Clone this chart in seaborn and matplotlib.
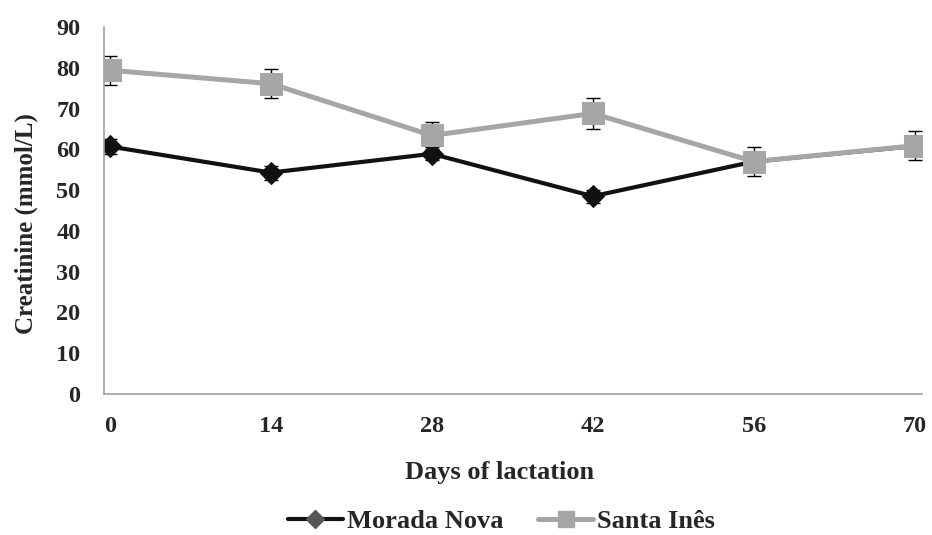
import matplotlib
matplotlib.use("Agg")
import matplotlib.pyplot as plt
from matplotlib.lines import Line2D
import seaborn as sns
import pandas as pd

days = [0, 14, 28, 42, 56, 70]
morada_nova = [60.7, 54.3, 58.9, 48.5, 57.0, 60.8]
morada_nova_err = [1.8, 1.7, 1.6, 1.6, 1.6, 1.6]
santa_ines = [79.4, 76.1, 63.4, 68.8, 57.0, 60.9]
santa_ines_err = [3.5, 3.6, 3.4, 3.7, 3.6, 3.5]
series_names = ["Morada Nova", "Santa Inês"]
x_ticks = [0, 14, 28, 42, 56, 70]
y_ticks = [0, 10, 20, 30, 40, 50, 60, 70, 80, 90]

sns.set_style("white")
plt.rcParams['font.family'] = ['Liberation Serif', 'DejaVu Serif']
plt.rcParams['font.weight'] = 'bold'

df = pd.DataFrame({
    "day": days * 2,
    "value": morada_nova + santa_ines,
    "breed": [series_names[0]] * len(days) + [series_names[1]] * len(days),
})

fig = plt.figure(figsize=(9.32, 5.35), dpi=100)
ax = fig.add_axes([0.1116, 0.2636, 0.8774, 0.6859])

black = "#111111"
gray = "#A6A6A6"

ax.errorbar(days, morada_nova, yerr=morada_nova_err, fmt='none', ecolor='black',
            elinewidth=1.0, capsize=4.7, capthick=1.0, zorder=1)
ax.errorbar(days, santa_ines, yerr=santa_ines_err, fmt='none', ecolor='black',
            elinewidth=1.0, capsize=4.7, capthick=1.0, zorder=1)

sns.lineplot(data=df[df.breed == series_names[0]], x="day", y="value", ax=ax,
             color=black, linewidth=3.0, marker='D', markersize=11,
             markeredgecolor=black, markerfacecolor=black, legend=False, zorder=2)
sns.lineplot(data=df[df.breed == series_names[1]], x="day", y="value", ax=ax,
             color=gray, linewidth=3.6, marker='s', markersize=15.5,
             markeredgecolor=gray, markerfacecolor=gray, legend=False, zorder=3)

ax.set_xlim(-0.5, 70.6)
ax.set_ylim(0, 90)
ax.set_xticks(x_ticks)
ax.set_yticks(y_ticks)
ax.tick_params(axis='x', length=0, labelsize=17.5, pad=16)
ax.tick_params(axis='y', length=0, labelsize=17.5, pad=17)
for lab in ax.get_xticklabels() + ax.get_yticklabels():
    lab.set_fontweight('bold')

for side in ['top', 'right']:
    ax.spines[side].set_visible(False)
for side in ['left', 'bottom']:
    ax.spines[side].set_color('#A0A0A0')
    ax.spines[side].set_linewidth(1.2)

ax.set_xlabel("Days of lactation", fontsize=19, fontweight='bold', labelpad=17, x=0.484)
ax.set_ylabel("Creatinine (mmol/L)", fontsize=18, fontweight='bold', labelpad=13, y=0.465)

handles = [
    Line2D([], [], color=black, linewidth=3.0, marker='D', markersize=9,
           markerfacecolor='#555555', markeredgecolor='#555555'),
    Line2D([], [], color=gray, linewidth=3.6, marker='s', markersize=11,
           markerfacecolor=gray, markeredgecolor=gray),
]
fig.legend(handles, series_names, loc='center', bbox_to_anchor=(0.538, 0.025),
           ncol=2, frameon=False, handlelength=2.1,
           columnspacing=1.3, handletextpad=0.15,
           prop={'weight': 'bold', 'size': 19})

fig.savefig("out.png", dpi=100)
